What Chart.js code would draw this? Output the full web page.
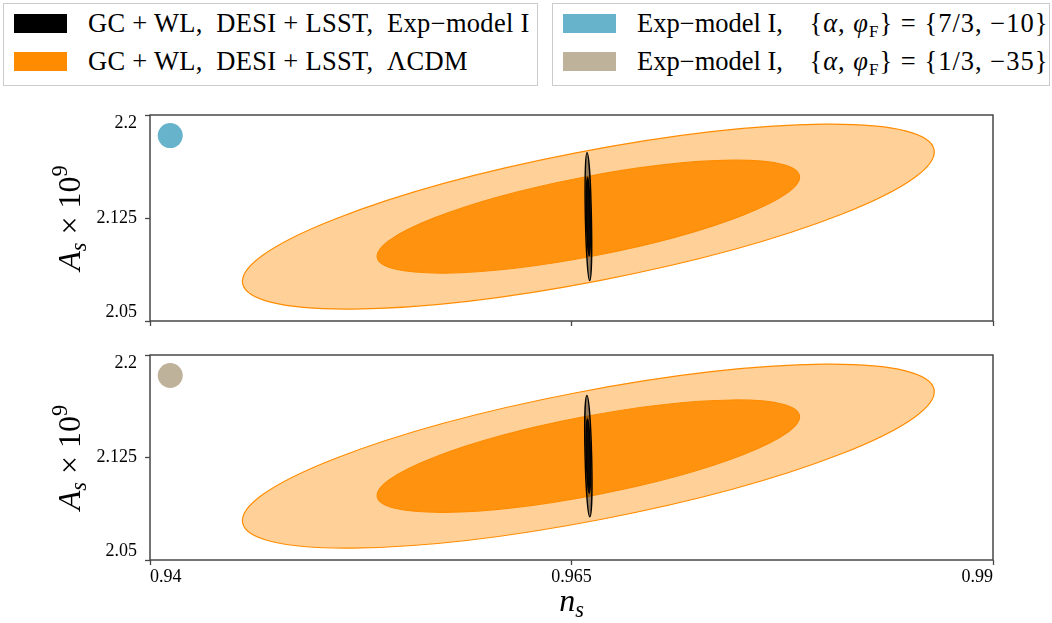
<!DOCTYPE html>
<html>
<head>
<meta charset="utf-8">
<script src="https://cdn.jsdelivr.net/npm/chart.js@4.4.1/dist/chart.umd.min.js"></script>
<style>
  body { margin: 0; background: #fff; }
  #wrap { position: relative; width: 1052px; height: 623px; font-family: "Liberation Serif", serif; overflow: hidden; }
  #wrap canvas { position: absolute; left: 0; }
  .legend { position: absolute; top: 3px; height: 83px; border: 1px solid #cccccc; background: #fff; box-sizing: border-box; }
  .row { position: absolute; left: 10px; height: 20px; display: flex; align-items: center; white-space: nowrap; font-size: 26.5px; color: #000; }
  .swatch { width: 53px; height: 19px; margin-right: 21px; flex: none; }
  .row sub { font-size: 17px; vertical-align: -5px; line-height: 0; }
  #legendLeft .row { letter-spacing: 0.3px; }
  .row .m { letter-spacing: 1px; }
</style>
</head>
<body>
<div id="wrap">
  <div id="legendLeft" class="legend" style="left:3px; width:535px;"></div>
  <div id="legendRight" class="legend" style="left:552px; width:498px;"></div>
  <canvas id="panelTop" width="1052" height="245" style="top:95px"></canvas>
  <canvas id="panelBottom" width="1052" height="288" style="top:335px"></canvas>
</div>
<script>
// axes
const nsRange = [0.94, 0.99];
const asRange = [2.05, 2.2];
const nsTicks = [0.94, 0.965, 0.99];
const asTicks = [2.05, 2.125, 2.2];

// fiducial point (n_s, A_s x 10^9)
const fiducial = [0.966, 2.126];
// Δχ² for the 95% and 68% two-parameter contours
const deltaChi2 = [6.17, 2.30];

// marginalised errors: [σ(n_s), σ(A_s), correlation]
const lcdmErr = [0.00826, 0.0271, 0.70];
const expErrTop = [0.000079, 0.01876, -0.4];
const expErrBottom = [0.000086, 0.01788, -0.4];

// model marker in the corner of each panel
const modelColors = ['#67b3cb', '#bfb29b'];
const markerPos = [0.9412, 2.185];

const lcdmColor = '#ff8c00';
const expColor = '#000000';

const legendLeft = [
  { color: expColor, html: 'GC + WL,&ensp;DESI + LSST,&ensp;Exp\u2212model I' },
  { color: lcdmColor, html: 'GC + WL,&ensp;DESI + LSST,&ensp;\u039BCDM' }
];
const legendRight = [
  { color: modelColors[0], html: 'Exp\u2212model I,&ensp;&nbsp; <span class="m">{<i>\u03B1</i>, <i>\u03C6</i><sub>F</sub>} = {7/3, \u221210}</span>' },
  { color: modelColors[1], html: 'Exp\u2212model I,&ensp;&nbsp; <span class="m">{<i>\u03B1</i>, <i>\u03C6</i><sub>F</sub>} = {1/3, \u221235}</span>' }
];

function buildLegend(el, items) {
  items.forEach((it, i) => {
    const row = document.createElement('div');
    row.className = 'row';
    row.style.top = (i === 0 ? 9 : 47) + 'px';
    row.innerHTML = `<span class="swatch" style="background:${it.color}"></span><span>${it.html}</span>`;
    el.appendChild(row);
  });
}
buildLegend(document.getElementById('legendLeft'), legendLeft);
buildLegend(document.getElementById('legendRight'), legendRight);

const yTitle = [
  { t: 'A', italic: true },
  { t: 's', italic: true, sub: true },
  { t: ' \u00D7 10' },
  { t: '9', sup: true }
];
const xTitle = [
  { t: 'n', italic: true },
  { t: 's', italic: true, sub: true }
];

const FONT = '"Liberation Serif"';
Chart.defaults.font.family = FONT;

function drawMath(ctx, parts, cx, baseline, size) {
  const fonts = parts.map(p => `${p.italic ? 'italic ' : ''}${p.sub || p.sup ? size * 0.7 : size}px ${FONT}`);
  let total = 0;
  const widths = parts.map((p, i) => {
    ctx.font = fonts[i];
    const w = ctx.measureText(p.t).width;
    total += w;
    return w;
  });
  let x = cx - total / 2;
  ctx.textAlign = 'left';
  ctx.textBaseline = 'alphabetic';
  ctx.fillStyle = '#000';
  parts.forEach((p, i) => {
    ctx.font = fonts[i];
    const dy = p.sub ? size * 0.2 : p.sup ? -size * 0.42 : 0;
    ctx.fillText(p.t, x, baseline + dy);
    x += widths[i];
  });
}

// confidence ellipses from the error triplets, mapped through the scales
const fisherEllipses = {
  id: 'fisherEllipses',
  beforeDatasetsDraw(chart, args, opts) {
    const { ctx, chartArea: ca, scales: { x, y } } = chart;
    const kx = (x.getPixelForValue(nsRange[1]) - x.getPixelForValue(nsRange[0])) / (nsRange[1] - nsRange[0]);
    const ky = (y.getPixelForValue(asRange[1]) - y.getPixelForValue(asRange[0])) / (asRange[1] - asRange[0]);
    const cx = x.getPixelForValue(fiducial[0]);
    const cy = y.getPixelForValue(fiducial[1]);
    ctx.save();
    ctx.beginPath();
    ctx.rect(ca.left, ca.top, ca.width, ca.height);
    ctx.clip();
    for (const c of opts.contours) {
      const [sn, sa, rho] = c.err;
      const a = (kx * sn) ** 2, d = (ky * sa) ** 2, b = kx * ky * rho * sn * sa;
      const mid = (a + d) / 2, half = Math.sqrt(((a - d) / 2) ** 2 + b * b);
      const l1 = mid + half, l2 = Math.max(mid - half, 0);
      const theta = 0.5 * Math.atan2(2 * b, a - d);
      deltaChi2.forEach((dc, i) => {
        const s = Math.sqrt(dc);
        ctx.beginPath();
        ctx.ellipse(cx, cy, s * Math.sqrt(l1), s * Math.sqrt(l2), theta, 0, 2 * Math.PI);
        ctx.fillStyle = c.fills[i];
        ctx.fill();
        ctx.lineWidth = c.lineWidth;
        ctx.strokeStyle = c.edge;
        ctx.stroke();
      });
    }
    ctx.restore();
  }
};

const frameAndTitles = {
  id: 'frameAndTitles',
  afterDraw(chart, args, opts) {
    const { ctx, chartArea: ca } = chart;
    ctx.save();
    ctx.strokeStyle = '#474747';
    ctx.lineWidth = 1.5;
    ctx.strokeRect(ca.left, ca.top, ca.width, ca.height);
    ctx.save();
    ctx.translate(80, (ca.top + ca.bottom) / 2);
    ctx.rotate(-Math.PI / 2);
    drawMath(ctx, yTitle, 0, 0, 32);
    ctx.restore();
    if (opts.xTitle) {
      drawMath(ctx, xTitle, (ca.left + ca.right) / 2, ca.bottom + 51, 32);
    }
    ctx.restore();
  }
};

// keep the plot frame fixed: no extra room for overhanging tick labels
function noOverhang(s) {
  s.paddingTop = 0;
  s.paddingBottom = 0;
  s.paddingLeft = 0;
  s.paddingRight = 0;
}

function panel(canvasId, idx, err, xLabels, xAxisHeight) {
  const tickFont = { family: FONT, size: 18, lineHeight: 0.95 };
  return new Chart(document.getElementById(canvasId), {
    type: 'scatter',
    data: {
      datasets: [{
        data: [{ x: markerPos[0], y: markerPos[1] }],
        pointRadius: 12.5,
        pointHoverRadius: 12.5,
        backgroundColor: modelColors[idx],
        borderWidth: 0
      }]
    },
    options: {
      responsive: false,
      animation: false,
      events: [],
      layout: { padding: { top: 20, right: 59, left: 0, bottom: 0 } },
      plugins: {
        legend: { display: false },
        tooltip: { enabled: false },
        fisherEllipses: {
          contours: [
            { err: lcdmErr, fills: ['rgba(255,140,0,0.4)', 'rgba(255,140,0,0.9)'], edge: lcdmColor, lineWidth: 1.2 },
            { err: err, fills: ['rgba(0,0,0,0.4)', 'rgba(0,0,0,0.9)'], edge: expColor, lineWidth: 1.4 }
          ]
        },
        frameAndTitles: { xTitle: xLabels }
      },
      scales: {
        x: {
          type: 'linear',
          min: nsRange[0],
          max: nsRange[1],
          afterBuildTicks: s => { s.ticks = nsTicks.map(v => ({ value: v })); },
          afterFit: s => { s.height = xAxisHeight; noOverhang(s); },
          grid: { drawOnChartArea: false, drawTicks: true, tickLength: 5, tickColor: '#474747', tickWidth: 1.3 },
          border: { display: false },
          ticks: {
            display: xLabels,
            align: 'inner',
            padding: 4,
            color: '#000',
            font: tickFont,
            callback: v => String(v)
          }
        },
        y: {
          type: 'linear',
          min: asRange[0],
          max: asRange[1],
          afterBuildTicks: s => { s.ticks = asTicks.map(v => ({ value: v })); },
          afterFit: s => { s.width = 150; noOverhang(s); },
          grid: { drawOnChartArea: false, drawTicks: true, tickLength: 5, tickColor: '#474747', tickWidth: 1.3 },
          border: { display: false },
          ticks: {
            padding: 8,
            color: '#000',
            font: tickFont,
            // edge labels sit inside the frame: blank line pushes them off the tick
            callback: (v, i, ticks) => {
              if (i === ticks.length - 1) return ['', String(v)];
              if (i === 0) return [String(v), ''];
              return String(v);
            }
          }
        }
      }
    },
    plugins: [fisherEllipses, frameAndTitles]
  });
}

panel('panelTop', 0, expErrTop, false, 19);
panel('panelBottom', 1, expErrBottom, true, 63);
</script>
</body>
</html>
